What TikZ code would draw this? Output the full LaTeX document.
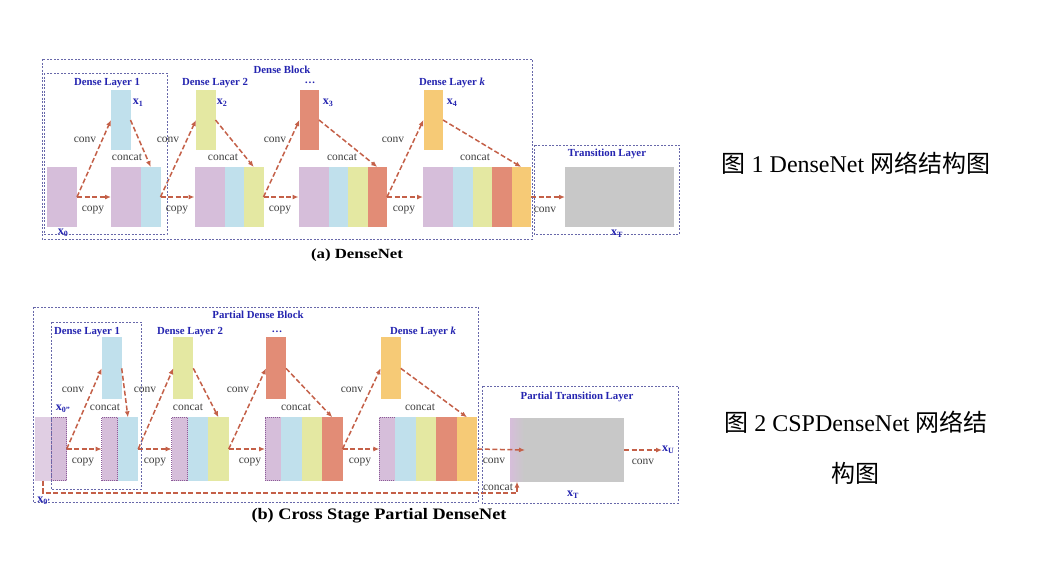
\documentclass[tikz,border=0pt]{standalone}
\usepackage{fontspec}
\setmainfont{Liberation Serif}
\newfontfamily\cjk{Noto Sans CJK SC}
\usetikzlibrary{arrows.meta, positioning, calc}

\definecolor{cpurp}{RGB}{214,190,218}
\definecolor{cblue}{RGB}{192,224,236}
\definecolor{cyg}{RGB}{228,232,162}
\definecolor{csal}{RGB}{226,140,118}
\definecolor{corg}{RGB}{246,202,118}
\definecolor{cgray}{RGB}{200,200,200}
\definecolor{arrred}{RGB}{196,96,72}
\definecolor{boxblue}{RGB}{104,104,170}
\definecolor{lblblue}{RGB}{36,36,176}
\definecolor{txtgray}{RGB}{64,64,64}
\definecolor{purpedge}{RGB}{140,92,152}

\begin{document}
\begin{tikzpicture}[x=1pt, y=-1pt,
  blk/.style={inner sep=0pt, outer sep=0pt, anchor=north west, minimum width=#1},
  grp/.style={draw=boxblue, line width=0.9pt, dash pattern=on 2pt off 1.5pt},
  flow/.style={draw=arrred, line width=1.5pt, dash pattern=on 5pt off 2.5pt, -{Latex[length=6pt,width=5pt]}},
  pstrip/.style={draw=purpedge, line width=0.7pt, dash pattern=on 1pt off 1pt},
  lyr/.style={text=lblblue, font=\bfseries\fontsize{10.8}{12}\selectfont, inner sep=0pt},
  op/.style={text=txtgray, font=\fontsize{11.5}{13}\selectfont, inner sep=0pt},
  xl/.style={text=lblblue, font=\bfseries\fontsize{12}{14}\selectfont, inner sep=0pt},
  capt/.style={font=\fontsize{24}{28}\selectfont, inner sep=0pt}]

  \fill[white] (0,0) rectangle (1062,566);
  \useasboundingbox (0,0) rectangle (1062,566);

  % ---------- (a) DenseNet ----------
  \node[blk=30, minimum height=60, fill=cpurp] (a0) at (47,167) {};
  \foreach \k/\px/\c in {1/111/cblue, 2/196/cyg, 3/299.5/csal, 4/423.5/corg}
    \node[blk=19.5, minimum height=60, fill=\c] (xa\k) at (\px,90) {};

  % concatenated feature maps
  \foreach \k/\bx in {1/111, 2/194.5, 3/298.5, 4/423} {
    \node[blk=30, minimum height=60, fill=cpurp] (ca\k) at (\bx,167) {};
    \foreach \c [count=\i] in {cblue,cyg,csal,corg} {
      \ifnum\i>\k\relax\else
        \node[blk=19.5, minimum height=60, fill=\c] (ca\k-\i) at ({\bx+30+(\i-1)*19.5},167) {};
      \fi
    }
  }
  \node[blk=109, minimum height=60, fill=cgray] (ta) at (565,167) {};

  \draw[flow] (a0.east) -- (xa1.west);
  \draw[flow] (a0.east) -- (ca1.west);
  \foreach \k/\n in {1/2, 2/3, 3/4} {
    \draw[flow] (ca\k-\k.east) -- (xa\n.west);
    \draw[flow] (ca\k-\k.east) -- (ca\n.west);
  }
  \foreach \k in {1,...,4}
    \draw[flow] (xa\k.east) -- (ca\k-\k.north);
  \draw[flow] (ca4-4.east) -- (ta.west);

  \draw[grp] (42,59) rectangle (532,239);
  \draw[grp] (44,73) rectangle (167,234);
  \draw[grp] (534,145) rectangle (679,234);

  \node[lyr] (dba) at (282,70) {Dense Block};
  \foreach \px/\t [count=\i] in {107/Dense Layer 1, 215/Dense Layer 2, 310/\dots, 452/Dense Layer \textit{k}}
    \node[lyr] (lya\i) at (\px,83) {\t};
  \foreach \k/\px in {1/138, 2/222, 3/328, 4/452}
    \node[xl] (lxa\k) at (\px,103) {x\textsubscript{\k}};
  \foreach \px [count=\i] in {85,168,275,393}
    \node[op] (cva\i) at (\px,140) {conv};
  \foreach \px [count=\i] in {127,223,342,475}
    \node[op] (cta\i) at (\px,157) {concat};
  \foreach \px [count=\i] in {93,177,280,404}
    \node[op] (cpa\i) at (\px,210) {copy};
  \node[xl] (lx0a) at (63,233) {x\textsubscript{0}};
  \node[lyr] (tla) at (607,154) {Transition Layer};
  \node[op] (cvta) at (545,210) {conv};
  \node[xl] (lxta) at (617,234) {x\textsubscript{T}};
  \node[font=\bfseries\fontsize{14}{16}\selectfont, inner sep=0pt] (capa) at (357,255) {\scalebox{1.2}[1]{(a) DenseNet}};

  % ---------- (b) CSPDenseNet ----------
  \node[blk=16, minimum height=63.4, fill=cpurp!75!white] (b0a) at (35,417.3) {};
  \node[blk=15.7, minimum height=63.4, fill=cpurp, pstrip] (b0b) at (51,417.3) {};
  \foreach \k/\px/\c in {1/101.7/cblue, 2/173.3/cyg, 3/266/csal, 4/380.7/corg}
    \node[blk=20, minimum height=62, fill=\c] (xb\k) at (\px,337.3) {};

  \foreach \k/\bx in {1/101.7, 2/171.7, 3/265, 4/379.3} {
    \node[blk=16, minimum height=63.4, fill=cpurp, pstrip] (cb\k) at (\bx,417.3) {};
    \foreach \c [count=\i] in {cblue,cyg,csal,corg} {
      \ifnum\i>\k\relax\else
        \node[blk=20.5, minimum height=63.4, fill=\c] (cb\k-\i) at ({\bx+16+(\i-1)*20.5},417.3) {};
      \fi
    }
  }
  \node[blk=114, minimum height=63.4, fill=cgray] (pt) at (510,418.3) {};
  \node[blk=14, minimum height=63.4, left color=cpurp, right color=cgray] (ptl) at (510,418.3) {};

  \draw[flow] (b0b.east) -- (xb1.west);
  \draw[flow] (b0b.east) -- (cb1.west);
  \foreach \k/\n in {1/2, 2/3, 3/4} {
    \draw[flow] (cb\k-\k.east) -- (xb\n.west);
    \draw[flow] (cb\k-\k.east) -- (cb\n.west);
  }
  \foreach \k in {1,...,4}
    \draw[flow] (xb\k.east) -- (cb\k-\k.north);
  \coordinate (ptin) at (525,450);
  \draw[flow] (cb4-4.east) -- (ptin);
  \node[xl, anchor=west] (xu) at (662,450) {x\textsubscript{U}};
  \draw[flow] (pt.east) -- (xu.west);
  \draw[flow] (b0a.south) -- ++(0,12.3) -| (ptl.south);

  \draw[grp] (33,307) rectangle (478,502);
  \draw[grp] (51,322) rectangle (141,489);
  \draw[grp] (482,386) rectangle (678,503);

  \node[lyr] (dbb) at (258,315) {Partial Dense Block};
  \foreach \px/\t [count=\i] in {87/Dense Layer 1, 190/Dense Layer 2, 277/\dots, 423/Dense Layer \textit{k}}
    \node[lyr] (lyb\i) at (\px,332) {\t};
  \foreach \px [count=\i] in {73,145,238,352}
    \node[op] (cvb\i) at (\px,390) {conv};
  \foreach \px [count=\i] in {105,188,296,420}
    \node[op] (ctb\i) at (\px,407) {concat};
  \foreach \px [count=\i] in {83,155,250,360}
    \node[op] (cpb\i) at (\px,462) {copy};
  \node[xl] (lx0b) at (63,409) {x\textsubscript{0''}};
  \node[xl] (lx0c) at (44,501) {x\textsubscript{0'}};
  \node[lyr] (tlb) at (577,397) {Partial Transition Layer};
  \node[op] (cvtb) at (494,461) {conv};
  \node[op] (cttb) at (498,487) {concat};
  \node[op] (cvub) at (643,462) {conv};
  \node[xl] (lxtb) at (573,495) {x\textsubscript{T}};
  \node[font=\bfseries\fontsize{16}{18}\selectfont, inner sep=0pt] (capb) at (379,516) {\scalebox{1.14}[1]{(b) Cross Stage Partial DenseNet}};

  % ---------- captions ----------
  \node[capt] (fig1) at (856,163) {{\cjk 图} 1 DenseNet {\cjk 网络结构图}};
  \node[capt] (fig2) at (856,422) {{\cjk 图} 2 CSPDenseNet {\cjk 网络结}};
  \node[capt] (fig2b) at (855,473) {{\cjk 构图}};
\end{tikzpicture}
\end{document}
